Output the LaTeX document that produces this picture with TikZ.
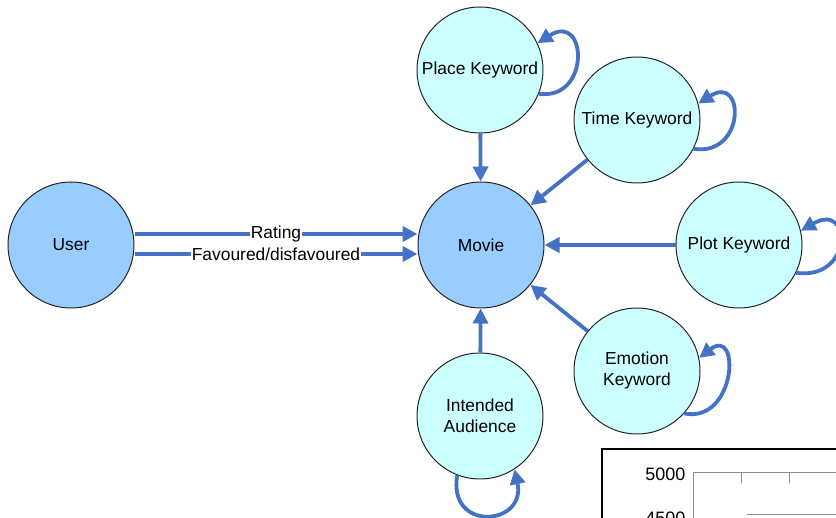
\documentclass[tikz,border=0pt]{standalone}
\usepackage{fontspec}
\setmainfont{Liberation Sans}
\usetikzlibrary{arrows.meta}
\definecolor{linkblue}{RGB}{68,114,196}
\definecolor{mainfill}{RGB}{153,204,255}
\definecolor{kwfill}{RGB}{204,255,255}
\begin{document}
\begin{tikzpicture}[x=1pt,y=-1pt,
  font=\fontsize{17.4}{21}\selectfont,
  state/.style={circle, draw=black!85, line width=1pt, minimum size=126pt,
                inner sep=0pt, align=center},
  core/.style={state, fill=mainfill},
  kw/.style={state, fill=kwfill},
  link/.style={draw=linkblue, line width=3.8pt,
               -{Triangle[length=15pt,width=15pt]}},
  edgelabel/.style={fill=white, inner sep=0.5pt},
  axisline/.style={draw=black!45, line width=1pt}]
\useasboundingbox (0,0) rectangle (836,518);

% states
\node[core] (user)     at (71,245)  {User};
\node[core] (movie)    at (481,245) {Movie};
\node[kw]   (place)    at (480,70)  {Place Keyword};
\node[kw]   (time)     at (637,120) {Time Keyword};
\node[kw]   (plot)     at (739,245) {Plot Keyword};
\node[kw]   (emotion)  at (637,371) {Emotion\\Keyword};
\node[kw]   (audience) at (480,416) {Intended\\Audience};

% user -> movie relations
\draw[link] ([yshift=11pt]user.east) -- node[edgelabel]{Rating} ([yshift=11pt]movie.west);
\draw[link] ([yshift=-9pt]user.east) -- node[edgelabel]{Favoured/disfavoured} ([yshift=-9pt]movie.west);

% keyword -> movie relations
\draw[link] (place) -- (movie);
\draw[link] (time) -- (movie);
\draw[link] (plot) -- (movie);
\draw[link] (emotion) -- (movie);
\draw[link] (audience) -- (movie);

% self loops
\draw[link] (place.-22) .. controls +(52,7) and +(50,-32) .. (place.25);
\draw[link] (time.-27) .. controls +(52,8) and +(47,-30) .. (time.15);
\draw[link] (plot.-26) .. controls +(57,8) and +(52,-30) .. (plot.13);
\draw[link] (emotion.-42) .. controls +(52,10) and +(42,-32) .. (emotion.12);
\draw[link] (audience.-111) .. controls +(-10,57) and +(12,57) .. (audience.-57);

% corner of a chart
\draw[line width=2pt] (602,449) rectangle (860,540);
\draw[axisline] (693,540) -- (693,473) -- (860,473);
\draw[axisline] (741,473) -- (741,483);
\draw[axisline] (789,473) -- (789,483);
\draw[axisline] (747,515) -- (860,515);
\node[anchor=east, font=\fontsize{18}{20}\selectfont] (y5000) at (689,474) {5000};
\node[anchor=east, font=\fontsize{18}{20}\selectfont] (y4500) at (689,518) {4500};
\end{tikzpicture}
\end{document}
